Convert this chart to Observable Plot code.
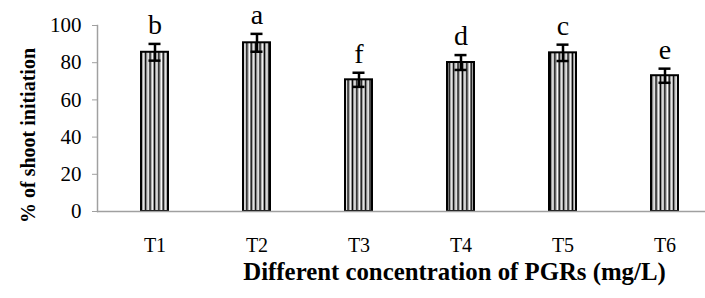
<!DOCTYPE html>
<html>
<head>
<meta charset="utf-8">
<script src="https://cdn.jsdelivr.net/npm/d3@7"></script>
<script src="https://cdn.jsdelivr.net/npm/@observablehq/plot@0.6"></script>
<style>
  html, body { margin: 0; padding: 0; background: #fff; }
  #chart svg { display: block; }
  #chart svg text { font-family: 'Liberation Serif', 'Times New Roman', serif; }
  #chart svg g[aria-label="y-axis tick label"] { font-size: 21px; }
  #chart svg g[aria-label="x-axis tick label"] { font-size: 20px; }
</style>
</head>
<body>
<div id="chart"></div>
<script>
const treatments = ["T1", "T2", "T3", "T4", "T5", "T6"];
const means = [85.6, 90.7, 70.8, 80.1, 85.3, 73.0];
const errors = [4.5, 4.8, 3.8, 4.0, 4.4, 3.8];
const letters = ["b", "a", "f", "d", "c", "e"];
const yTicks = [0, 20, 40, 60, 80, 100];
const xTitle = "Different concentration of PGRs (mg/L)";
const yTitle = "% of shoot initiation";

const data = treatments.map((t, i) => ({
  t, mean: means[i], lo: means[i] - errors[i], hi: means[i] + errors[i], letter: letters[i]
}));

const serif = "'Liberation Serif', 'Times New Roman', serif";
const gray = "#a0a0a0";

const plot = Plot.plot({
  width: 705,
  height: 298,
  marginLeft: 97,
  marginRight: 0,
  marginTop: 25,
  marginBottom: 87,
  style: { fontFamily: serif, fontSize: "20px", background: "#fff", overflow: "visible" },
  x: { domain: treatments, range: [64.5, 755.5], padding: 0.735, label: null },
  y: { domain: [0, 100], ticks: yTicks, label: null },
  marks: [
    Plot.barY(data, { x: "t", y: "mean", fill: "url(#stripes)", stroke: "#000", strokeWidth: 2 }),
    Plot.ruleY([0], { stroke: gray, strokeWidth: 1.5 }),
    Plot.frame({ anchor: "left", stroke: gray, strokeWidth: 1.5 }),
    Plot.axisY({ ticks: yTicks, tickSize: 5, tickPadding: 11, stroke: gray, fill: "#000", fontSize: 21, fontFamily: serif, label: null }),
    Plot.axisX({ tickSize: 0, tickPadding: 26, fontSize: 20, fontFamily: serif, fill: "#000", label: null }),
    Plot.ruleX(data, { x: "t", y1: "lo", y2: "hi", stroke: "#000", strokeWidth: 2.5 }),
    Plot.tickY(data, { x: "t", y: "hi", stroke: "#000", strokeWidth: 2.5, insetLeft: 7.5, insetRight: 7.5 }),
    Plot.tickY(data, { x: "t", y: "lo", stroke: "#000", strokeWidth: 2.5, insetLeft: 7.5, insetRight: 7.5 }),
    Plot.text(data, { x: "t", y: "hi", text: "letter", fontSize: 28, fontFamily: serif, lineAnchor: "bottom", dy: -10, fill: "#000" }),
    Plot.text([xTitle], { frameAnchor: "bottom", textAnchor: "middle", lineAnchor: "middle", dx: 53, dy: 61, fontSize: 24.8, fontFamily: serif, fontWeight: "bold", fill: "#000" }),
    Plot.text([yTitle], { frameAnchor: "left", textAnchor: "middle", lineAnchor: "middle", rotate: -90, dx: -69, dy: 17, fontSize: 20, fontFamily: serif, fontWeight: "bold", fill: "#000" })
  ]
});

const svgNS = "http://www.w3.org/2000/svg";
const defs = document.createElementNS(svgNS, "defs");
defs.innerHTML = `<pattern id="stripes" patternUnits="userSpaceOnUse" width="4.4" height="10">
  <rect x="0" y="0" width="4.4" height="10" fill="#ffffff"/>
  <rect x="0" y="0" width="1.3" height="10" fill="#000000"/>
  <rect x="1.3" y="0" width="0.9" height="10" fill="#8a8a8a"/>
  <rect x="3.5" y="0" width="0.9" height="10" fill="#8a8a8a"/>
</pattern>`;
plot.insertBefore(defs, plot.firstChild);
document.getElementById("chart").appendChild(plot);
</script>
</body>
</html>
